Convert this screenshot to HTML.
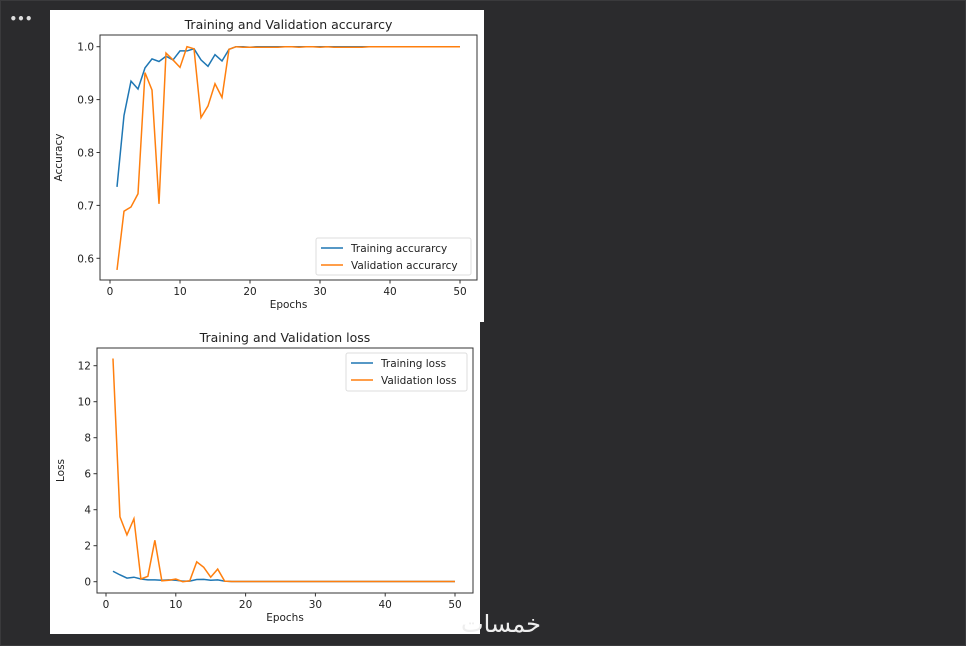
<!DOCTYPE html>
<html><head><meta charset="utf-8"><style>
html,body{margin:0;width:966px;height:646px;background:#2b2b2d;overflow:hidden;font-family:"Liberation Sans","DejaVu Sans",sans-serif}
svg{display:block}
svg text{font-family:"DejaVu Sans","Liberation Sans",sans-serif;fill:#222}
</style></head><body>
<svg id="s" width="966" height="646">
<rect x="0.5" y="0.5" width="965" height="645" fill="#2b2b2d" stroke="#3a3a3c"/>
<text x="21" y="23" text-anchor="middle" style="fill:#ddd;font-size:12px;font-weight:bold">•••</text>
<rect x="50" y="10" width="434" height="312" fill="#fff"/>
<rect x="50" y="322" width="430" height="312" fill="#fff"/>
<text x="541" y="632" text-anchor="end" style="fill:#eeeeee;font-size:24px;font-family:'DejaVu Sans',sans-serif">خمسات</text>
</svg>
<script>
const epochs=[];for(let i=1;i<=50;i++)epochs.push(i);
const trainAcc=[0.735,0.87,0.935,0.92,0.96,0.977,0.972,0.982,0.975,0.992,0.992,0.996,0.975,0.963,0.985,0.973,0.995,1.0,1.0,0.999,1.0,1.0,1.0,1.0,1.0,1.0,1.0,1.0,1.0,1.0,1.0,1.0,1.0,1.0,1.0,1.0,1.0,1.0,1.0,1.0,1.0,1.0,1.0,1.0,1.0,1.0,1.0,1.0,1.0,1.0];
const valAcc=[0.578,0.689,0.697,0.722,0.951,0.918,0.703,0.988,0.975,0.961,1.0,0.996,0.866,0.888,0.930,0.904,0.995,1.0,0.999,0.999,0.999,0.999,0.999,0.999,1.0,1.0,0.999,1.0,1.0,0.999,1.0,0.999,0.999,0.999,0.999,0.999,1.0,1.0,1.0,1.0,1.0,1.0,1.0,1.0,1.0,1.0,1.0,1.0,1.0,1.0];
const trainLoss=[0.58,0.38,0.2,0.25,0.15,0.1,0.1,0.08,0.1,0.08,0.03,0.03,0.12,0.13,0.08,0.1,0.03,0.01,0.01,0.01,0.01,0.01,0.01,0.01,0.01,0.01,0.01,0.01,0.01,0.01,0.01,0.01,0.01,0.01,0.01,0.01,0.01,0.01,0.01,0.01,0.01,0.01,0.01,0.01,0.01,0.01,0.01,0.01,0.01,0.01];
const valLoss=[12.4,3.6,2.6,3.5,0.15,0.3,2.3,0.05,0.08,0.15,0.0,0.05,1.1,0.8,0.25,0.7,0.03,0.01,0.01,0.01,0.01,0.01,0.01,0.01,0.01,0.01,0.01,0.01,0.01,0.01,0.01,0.01,0.01,0.01,0.01,0.01,0.01,0.01,0.01,0.01,0.01,0.01,0.01,0.01,0.01,0.01,0.01,0.01,0.01,0.01];
const xTicks=[0,10,20,30,40,50];
const accTicks=[0.6,0.7,0.8,0.9,1.0];
const lossTicks=[0,2,4,6,8,10,12];
const svg=document.getElementById('s');const NS='http://www.w3.org/2000/svg';
function mk(t,a,txt){const e=document.createElementNS(NS,t);for(const k in a)e.setAttribute(k,a[k]);if(txt!=null)e.textContent=txt;svg.appendChild(e);return e;}
function chart(c){
 const sx=v=>c.x0+(v-c.xv0)*(c.x1-c.x0)/(c.xv1-c.xv0);
 const sy=v=>c.y0+(v-c.yv0)*(c.y1-c.y0)/(c.yv1-c.yv0);
 let f=mk('rect',{x:c.L,y:c.T,width:c.R-c.L,height:c.B-c.T,fill:'none',stroke:'#333','stroke-width':1});
 
 xTicks.forEach(v=>{const x=sx(v);mk('line',{x1:x,x2:x,y1:c.B,y2:c.B+3.5,stroke:'#333'});
  const t=mk('text',{x:x,y:c.B+15,'text-anchor':'middle','font-size':10.5},v);
  });
 c.yt.forEach(v=>{const y=sy(v);mk('line',{x1:c.L-3.5,x2:c.L,y1:y,y2:y,stroke:'#333'});
  const t=mk('text',{x:c.L-6,y:y+4,'text-anchor':'end','font-size':10.5},c.fmt(v));
  });
 let t=mk('text',{x:(c.L+c.R)/2,y:c.T-6,'text-anchor':'middle','font-size':12.5},c.title);
 
 t=mk('text',{x:(c.L+c.R)/2,y:c.B+28,'text-anchor':'middle','font-size':10.5},'Epochs');
 
 const yc=(c.T+c.B)/2, yx=c.L-c.yo;
 t=mk('text',{x:yx,y:yc,'text-anchor':'middle','font-size':10.5,transform:`rotate(-90 ${yx} ${yc})`},c.ylab);
 
 c.series.forEach(s=>{const p=mk('polyline',{points:epochs.map((e,i)=>sx(e)+','+sy(s.d[i])).join(' '),fill:'none',stroke:s.col,'stroke-width':1.5});
  });
 const lg=mk('rect',{x:c.lg[0],y:c.lg[1],width:c.lg[2],height:c.lg[3],fill:'#fff',stroke:'#ddd',rx:2});
 
 c.series.forEach((s,i)=>{const y=c.lg[1]+10+i*17;
  mk('line',{x1:c.lg[0]+5,x2:c.lg[0]+27,y1:y,y2:y,stroke:s.col,'stroke-width':1.5});
  const tt=mk('text',{x:c.lg[0]+35,y:y+4,'font-size':10.5},s.label);
  });
}
chart({id:'accuracy',L:100,R:477,T:35,B:280,x0:110,x1:460,xv0:0,xv1:50,y0:258.3,y1:46.7,yv0:0.6,yv1:1.0,yt:accTicks,fmt:v=>v.toFixed(1),yo:38,
 title:'Training and Validation accurarcy',ylab:'Accuracy',lg:[316,238,155,37],
 series:[{d:trainAcc,col:'#1f77b4',label:'Training accurarcy',name:'training-accuracy-line'},{d:valAcc,col:'#ff7f0e',label:'Validation accurarcy',name:'validation-accuracy-line'}]});
chart({id:'loss',L:97,R:473,T:348,B:593,x0:106,x1:455,xv0:0,xv1:50,y0:581.7,y1:365.7,yv0:0,yv1:12,yt:lossTicks,fmt:v=>String(v),yo:33,
 title:'Training and Validation loss',ylab:'Loss',lg:[346,353,121,38],
 series:[{d:trainLoss,col:'#1f77b4',label:'Training loss',name:'training-loss-line'},{d:valLoss,col:'#ff7f0e',label:'Validation loss',name:'validation-loss-line'}]});
</script>
</body></html>
